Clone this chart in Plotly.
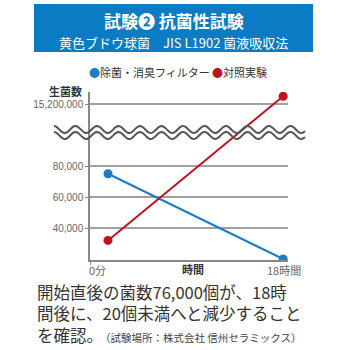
import numpy as np
import plotly.graph_objects as go

# ---- data ----
series_names = ["除菌・消臭フィルター", "対照実験"]
time_hours = [0, 18]
filter_counts = [75000, 20000]
control_counts = [32000, 15700000]
y_tick_values = [40000, 60000, 80000, 15200000]
y_tick_labels = ["40,000", "60,000", "80,000", "15,200,000"]
x_tick_labels = ["0分", "18時間"]

title_text = "試験❷ 抗菌性試験"
subtitle_text = "黄色ブドウ球菌\u3000JIS L1902 菌液吸収法"
body_lines = ["開始直後の菌数76,000個が、18時", "間後に、20個未満へと減少すること", "を確認。"]
note_text = "（試験場所：株式会社 信州セラミックス）"

BLUE = "#1a7dc6"
RED = "#c0121f"
GRID = "#a0a0a0"
TXT = "#333333"


# broken axis: lower part linear, upper part compressed around 15,200,000
def to_axis(v):
    if v < 1000000:
        return v
    return 120000 + (v - 15200000) * 0.01


# plot area in pixels
L, R, T, B = 90, 288, 92, 260


def px_x(p):
    return (p - L) / (R - L)


def px_y(p):
    return (B - p) / (B - T)


fig = go.Figure()
fig.add_trace(go.Scatter(x=time_hours, y=[to_axis(v) for v in filter_counts], mode="lines+markers",
                         line=dict(color=BLUE, width=2), marker=dict(color=BLUE, size=9),
                         name=series_names[0], showlegend=False))
fig.add_trace(go.Scatter(x=time_hours, y=[to_axis(v) for v in control_counts], mode="lines+markers",
                         line=dict(color=RED, width=2), marker=dict(color=RED, size=9),
                         name=series_names[1], showlegend=False))

# wavy break band
shapes = []
xs = np.linspace(54, 305, 200)
for yc in (129.5, 135.5):
    ys = yc - 3.5 * np.sin((xs - 54) / 21.5 * 2 * np.pi + np.pi / 2)
    path = "M " + " L ".join(f"{px_x(a):.4f},{px_y(b):.4f}" for a, b in zip(xs, ys))
    shapes.append(dict(type="path", xref="paper", yref="paper", path=path,
                       line=dict(color="#555555", width=2), layer="above"))

# header box
shapes.append(dict(type="rect", xref="paper", yref="paper", x0=px_x(34), x1=px_x(313),
                   y0=px_y(52), y1=px_y(4), fillcolor="#0b7cc4", line=dict(width=0), layer="below"))

ann = []
ff = "Noto Sans CJK JP"
ann.append(dict(text=f"<b>{title_text}</b>", x=px_x(174), y=px_y(21), font=dict(size=17, color="white", family=ff)))
ann.append(dict(text=subtitle_text, x=px_x(173), y=px_y(43), font=dict(size=13, color="white", family=ff)))
# legend
ann.append(dict(text=f"<span style='color:{BLUE}'>●</span>{series_names[0]}", x=px_x(87), y=px_y(72),
                xanchor="left", font=dict(size=11, color=TXT, family=ff)))
ann.append(dict(text=f"<span style='color:{RED}'>●</span>{series_names[1]}", x=px_x(210), y=px_y(72),
                xanchor="left", font=dict(size=11, color=TXT, family=ff)))
# axis labels
ann.append(dict(text="<b>生菌数</b>", x=px_x(84), y=px_y(91), xanchor="right", font=dict(size=11, color=TXT, family=ff)))
ann.append(dict(text="<b>時間</b>", x=px_x(193), y=px_y(269), font=dict(size=11, color=TXT, family=ff)))
ann.append(dict(text=x_tick_labels[0], x=px_x(87), y=px_y(270), xanchor="left", font=dict(size=11, color="#666", family=ff)))
ann.append(dict(text=x_tick_labels[1], x=px_x(284), y=px_y(270), font=dict(size=11, color="#666", family=ff)))
# body text (one block, note inline on last line)
body = "<br>".join(body_lines[:-1]) + "<br>" + body_lines[-1] + \
       f"<span style='font-size:10.5px;color:#444'>\u3000{note_text}</span>"
ann.append(dict(text=body, x=px_x(35), y=px_y(349), xanchor="left", yanchor="bottom", align="left",
                font=dict(size=16.5, color=TXT, family=ff)))
for a in ann:
    a.update(xref="paper", yref="paper", showarrow=False)
    a.setdefault("yanchor", "middle")
    a.setdefault("xanchor", "center")

fig.update_layout(
    width=350, height=350,
    margin=dict(l=L, r=350 - R, t=T, b=350 - B),
    paper_bgcolor="white", plot_bgcolor="rgba(0,0,0,0)",
    shapes=shapes, annotations=ann,
    xaxis=dict(range=[-1.85, 18.5], showgrid=False, zeroline=False, showticklabels=False,
               showline=True, linecolor="#888", linewidth=1.5,
               tickvals=[-1.85], ticks="outside", ticklen=3, tickcolor="#888"),
    yaxis=dict(range=[19355, 127742], tickvals=[to_axis(v) for v in y_tick_values], ticktext=y_tick_labels,
               showgrid=True, gridcolor=GRID, gridwidth=1.5, zeroline=False,
               showline=True, linecolor="#888", linewidth=1.5,
               ticks="outside", ticklen=3, tickcolor="#888",
               tickfont=dict(size=10, color="#666", family="Liberation Sans")),
    showlegend=False,
)
fig.write_html("out.html")
